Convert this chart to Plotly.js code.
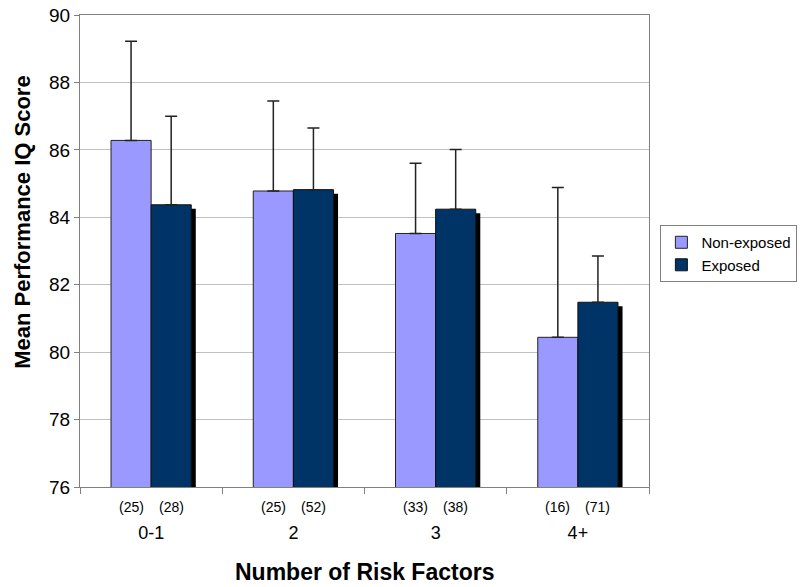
<!DOCTYPE html>
<html>
<head>
<meta charset="utf-8">
<script src="https://cdn.plot.ly/plotly-3.0.1.min.js"></script>
<style>html,body{margin:0;padding:0;background:#fff}#chart{width:800px;height:587px}</style>
</head>
<body>
<div id="chart"></div>
<script>
const categories = ["0-1", "2", "3", "4+"];
const nonExposedMean = [86.28, 84.78, 83.52, 80.44];
const nonExposedUpper = [89.22, 87.45, 85.60, 84.88];
const exposedMean = [84.37, 84.82, 84.24, 81.48];
const exposedUpper = [87.00, 86.65, 86.01, 82.85];
const nonExposedN = [25, 25, 33, 16];
const exposedN = [28, 52, 38, 71];

const fontFam = "Liberation Sans, Arial, sans-serif";
const barW = 0.282;
const shadowDrop = 0.12;

const traces = [
  {
    type: "bar", x: categories, y: exposedMean.map(v => v - shadowDrop),
    offset: 0.032, width: barW, marker: {color: "#000000"},
    showlegend: false, hoverinfo: "skip"
  },
  {
    type: "bar", name: "Non-exposed", x: categories, y: nonExposedMean,
    offset: -barW, width: barW,
    marker: {color: "#9999FF", line: {color: "#222222", width: 1}},
    error_y: {type: "data", symmetric: false,
      array: nonExposedUpper.map((u, i) => u - nonExposedMean[i]),
      arrayminus: nonExposedMean.map(() => 0),
      color: "#222222", thickness: 1.5, width: 6}
  },
  {
    type: "bar", name: "Exposed", x: categories, y: exposedMean,
    offset: 0, width: barW,
    marker: {color: "#003366", line: {color: "#111111", width: 1}},
    error_y: {type: "data", symmetric: false,
      array: exposedUpper.map((u, i) => u - exposedMean[i]),
      arrayminus: exposedMean.map(() => 0),
      color: "#222222", thickness: 1.5, width: 6}
  }
];

const annotations = [];
categories.forEach((c, i) => {
  annotations.push({x: i, xref: "x", xshift: -20, y: 0, yref: "paper", yshift: -20, text: "(" + nonExposedN[i] + ")",
    showarrow: false, font: {family: fontFam, size: 14, color: "#000"}, xanchor: "center", yanchor: "middle"});
  annotations.push({x: i, xref: "x", xshift: 20, y: 0, yref: "paper", yshift: -20, text: "(" + exposedN[i] + ")",
    showarrow: false, font: {family: fontFam, size: 14, color: "#000"}, xanchor: "center", yanchor: "middle"});
});
annotations.push({x: -0.1, xref: "paper", y: 0.56, yref: "paper", text: "<b>Mean Performance IQ Score</b>",
  textangle: -90, showarrow: false, font: {family: fontFam, size: 22, color: "#000"}, xanchor: "center", yanchor: "middle"});
annotations.push({x: 0.5, xref: "paper", y: 0, yref: "paper", yshift: -85, text: "<b>Number of Risk Factors</b>",
  showarrow: false, font: {family: fontFam, size: 23, color: "#000"}, xanchor: "center", yanchor: "middle"});

const layout = {
  width: 800, height: 587,
  margin: {l: 80, r: 151, t: 15, b: 100, autoexpand: false},
  paper_bgcolor: "#ffffff", plot_bgcolor: "#ffffff",
  barmode: "overlay",
  font: {family: fontFam, color: "#000"},
  xaxis: {
    type: "category", tickson: "boundaries", ticks: "outside", ticklen: 6, tickcolor: "#808080",
    showline: true, linecolor: "#808080", linewidth: 1, mirror: true,
    showgrid: false, tickfont: {size: 18, family: fontFam}, ticklabelstandoff: 29
  },
  yaxis: {
    range: [76, 90], dtick: 2, tick0: 76, ticks: "outside", ticklen: 5, tickcolor: "#808080",
    showline: true, linecolor: "#808080", linewidth: 1, mirror: true,
    showgrid: true, gridcolor: "#c0c0c0", gridwidth: 1, zeroline: false,
    tickfont: {size: 19, family: fontFam}
  },
  legend: {
    x: 1.02, y: 0.555, xanchor: "left", yanchor: "top",
    bordercolor: "#808080", borderwidth: 1, bgcolor: "#ffffff",
    font: {size: 15, family: fontFam}, itemwidth: 30, tracegroupgap: 0
  },
  annotations: annotations,
  showlegend: true
};

Plotly.newPlot("chart", traces, layout, {displayModeBar: false, staticPlot: true});
</script>
</body>
</html>
